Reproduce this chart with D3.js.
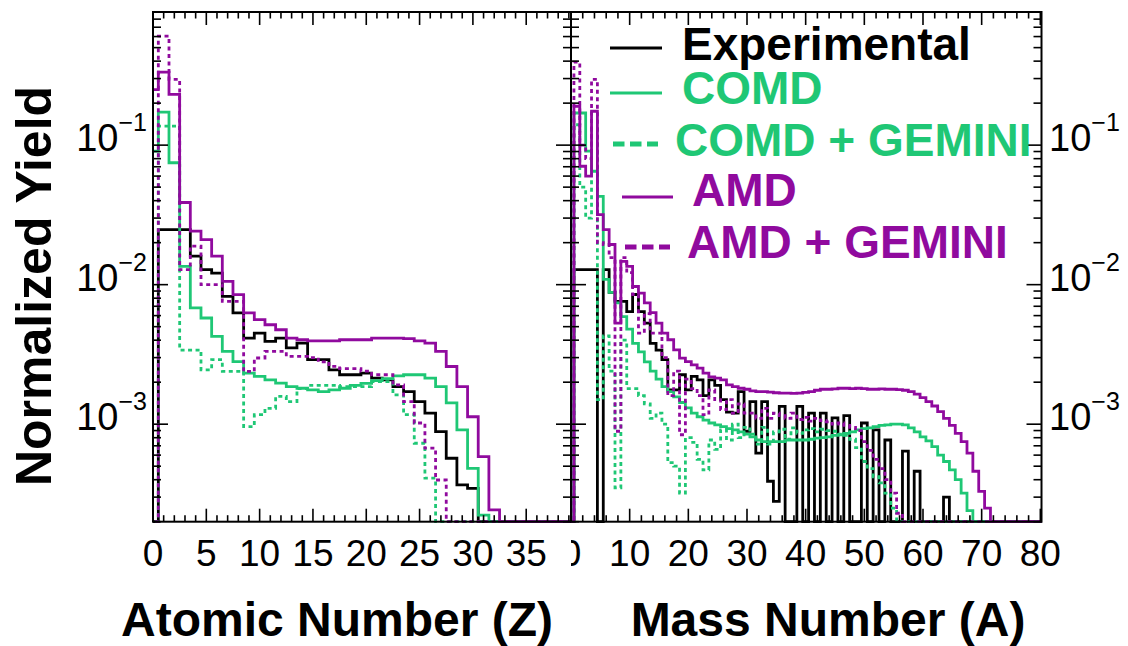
<!DOCTYPE html>
<html>
<head>
<meta charset="utf-8">
<script src="https://cdn.jsdelivr.net/npm/d3@7"></script>
<style>
  html, body { margin: 0; padding: 0; background: #fff; }
  text { font-family: "Liberation Sans", Arial, Helvetica, sans-serif; }
</style>
</head>
<body>
<svg id="chart" width="1128" height="646"></svg>
<script>
// ---- Fragment yields per atomic number Z (bins centred on Z = 0, 1, 2, ...) ----
const expZ     = [0, 0.0248, 0.0248, 0.0248, 0.016, 0.0128, 0.0121, 0.00824, 0.00627, 0.00414, 0.0045, 0.00392, 0.00414, 0.00352, 0.00381, 0.0029, 0.0029, 0.00245, 0.00226, 0.00226, 0.00232, 0.00214, 0.00208, 0.00186, 0.00171, 0.00145, 0.0012, 0.000885, 0.00057, 0.000367, 0.000347];
const comdZ    = [0.0906, 0.1726, 0.0748, 0.0135, 0.00681, 0.00577, 0.00426, 0.00332, 0.00281, 0.00232, 0.0022, 0.00208, 0.00197, 0.00186, 0.00181, 0.00176, 0.00171, 0.00176, 0.00181, 0.0019, 0.00196, 0.00205, 0.00212, 0.00222, 0.00226, 0.00226, 0.00214, 0.00186, 0.00142, 0.00091, 0.000483, 0.000223];
const comdGemZ = [0, 0.137, 0.137, 0.0034, 0.0034, 0.00245, 0.0029, 0.00239, 0.00239, 0.00096, 0.00117, 0.0013, 0.00158, 0.00145, 0.0018, 0.0019, 0.0019, 0.0019, 0.00186, 0.00186, 0.00186, 0.00202, 0.00202, 0.00162, 0.00117, 0.00073, 0.00041];
const amdZ     = [0.25, 0.334, 0.231, 0.0388, 0.0242, 0.021, 0.016, 0.01057, 0.00848, 0.00627, 0.00561, 0.00516, 0.00475, 0.00414, 0.00403, 0.00396, 0.00396, 0.00396, 0.00403, 0.00403, 0.00403, 0.00414, 0.00414, 0.00414, 0.0041, 0.00396, 0.00381, 0.00332, 0.00259, 0.00186, 0.00113, 0.000585, 0.000243];
const amdGemZ  = [0, 0.605, 0.296, 0.0128, 0.0189, 0.01, 0.01, 0.0076, 0.0076, 0.00239, 0.00298, 0.00332, 0.00332, 0.00306, 0.00306, 0.003, 0.0028, 0.0026, 0.0025, 0.0025, 0.0024, 0.00226, 0.00226, 0.00191, 0.00145, 0.00102, 0.000673, 0.000398];

// ---- Fragment yields per mass number A (bins centred on A = 0, 1, 2, ...) ----
const expA     = [0, 0.0128, 0.0128, 0.0128, 0.0128, 0, 0.0128, 0.0088, 0.0076, 0.0076, 0.0064, 0.0085, 0.0064, 0.0053, 0.0038, 0.0034, 0.0029, 0.00176, 0.00176, 0.00226, 0.00176, 0.0022, 0.00208, 0.0016, 0.00208, 0.0019, 0.0015, 0.00122, 0.0012, 0.00171, 0.00089, 0.00145, 0.00062, 0.00145, 0.00039, 0.00028, 0.00134, 0, 0, 0.00134, 0, 0.0012, 0, 0.0012, 0, 0.00111, 0, 0.00115, 0, 0, 0.00102, 0, 0.00091, 0, 0.00077, 0, 0, 0.00064, 0, 0.00046, 0, 0, 0, 0, 0.0003];
const comdA    = [0, 0.17, 0.17, 0.0906, 0.065, 0.043, 0.0109, 0.0088, 0.0074, 0.0059, 0.0048, 0.0038, 0.0033, 0.0028, 0.0024, 0.0021, 0.00186, 0.00171, 0.00157, 0.00143, 0.00131, 0.0012, 0.00113, 0.00107, 0.00102, 0.00099, 0.00096, 0.00093, 0.00091, 0.00088, 0.00085, 0.00081, 0.00077, 0.00075, 0.00075, 0.00075, 0.00075, 0.00077, 0.00077, 0.00077, 0.00077, 0.00078, 0.000795, 0.0008, 0.00081, 0.00083, 0.00084, 0.00086, 0.00088, 0.00091, 0.00093, 0.00094, 0.00096, 0.00098, 0.00099, 0.001, 0.001, 0.00099, 0.00094, 0.00088, 0.00081, 0.00076, 0.00069, 0.0006, 0.00054, 0.00047, 0.0004, 0.00032, 0.00024];
const comdGemA = [0, 0.14, 0.05, 0.03, 0.13, 0.0015, 0.0043, 0.0024, 0.00035, 0.004, 0.0018, 0.0018, 0.0016, 0.0014, 0.0011, 0.0012, 0.001, 0.00053, 0.0005, 0.00032, 0.0008, 0.00074, 0.00056, 0.00047, 0.00077, 0.00066, 0.00091, 0.00077, 0.001, 0.0008, 0.00095, 0.00085, 0.00072, 0.00095, 0.00072, 0.00088, 0.00092, 0.00078, 0.00094, 0.00086, 0.00091, 0.00093, 0.00088, 0.00092, 0.0009, 0.00089, 0.00085, 0.00083, 0.00078, 0.00068, 0.00054, 0.00048, 0.00042, 0.00038, 0.00032, 0.00025];
const amdA     = [0, 0.19, 0.0706, 0.06, 0.175, 0.0318, 0.0248, 0.0194, 0.0053, 0.0147, 0.0135, 0.0097, 0.0087, 0.0074, 0.0063, 0.0053, 0.0045, 0.00403, 0.00341, 0.00297, 0.00281, 0.00266, 0.00252, 0.00232, 0.00218, 0.00214, 0.00208, 0.00191, 0.00186, 0.00181, 0.00178, 0.00173, 0.00171, 0.00171, 0.0017, 0.00168, 0.00167, 0.00167, 0.00166, 0.00167, 0.00169, 0.00171, 0.00175, 0.00178, 0.00178, 0.00179, 0.00181, 0.00181, 0.0018, 0.00181, 0.0018, 0.00178, 0.00178, 0.00179, 0.00178, 0.00178, 0.00177, 0.00175, 0.00171, 0.00164, 0.00155, 0.00145, 0.00135, 0.00123, 0.0011, 0.00098, 0.00086, 0.00075, 0.00062, 0.00046, 0.00033, 0.00025];
const amdGemA  = [0, 0.393, 0.1, 0.08, 0.296, 0.02, 0.0194, 0.0156, 0.00089, 0.0156, 0.0122, 0.0085, 0.0045, 0.0062, 0.0045, 0.0045, 0.003, 0.0016, 0.0024, 0.00084, 0.0021, 0.0018, 0.0016, 0.00117, 0.00176, 0.0015, 0.00127, 0.0015, 0.0012, 0.0014, 0.0012, 0.0012, 0.0011, 0.0013, 0.0011, 0.0012, 0.00115, 0.0011, 0.0012, 0.00108, 0.00112, 0.00105, 0.0011, 0.00106, 0.00104, 0.001, 0.00102, 0.00098, 0.00095, 0.0009, 0.00075, 0.00065, 0.00056, 0.00048, 0.0004, 0.00032, 0.00023];

// ---- Axis labels ----
const zTickLabels = [0, 5, 10, 15, 20, 25, 30, 35];
const aTickLabels = [0, 10, 20, 30, 40, 50, 60, 70, 80];
const yDecades    = [-3, -2, -1];
const legendLabels = ["Experimental", "COMD", "COMD + GEMINI", "AMD", "AMD + GEMINI"];

// ---- Styling ----
const BLACK = "#000000", GREEN = "#1fc775", PURPLE = "#900a9e";
const series = [
  { key: "exp",     color: BLACK,  dotted: false },
  { key: "comd",    color: GREEN,  dotted: false },
  { key: "comdGem", color: GREEN,  dotted: true  },
  { key: "amd",     color: PURPLE, dotted: false },
  { key: "amdGem",  color: PURPLE, dotted: true  }
];
const panelData = {
  Z: { exp: expZ, comd: comdZ, comdGem: comdGemZ, amd: amdZ, amdGem: amdGemZ },
  A: { exp: expA, comd: comdA, comdGem: comdGemA, amd: amdA, amdGem: amdGemA }
};

const svg = d3.select("#chart");
const frameTop = 12, frameBottom = 521.7;
const yMin = 2e-4, yMax = 0.9;
const y = d3.scaleLog().domain([yMin, yMax]).range([frameBottom, frameTop]);

const panels = [
  { id: "Z", left: 153, right: 571, xMax: 39.2, nBins: 40, major: 5, minor: 1,
    labels: zTickLabels, title: "Atomic Number (Z)", titleX: 337 },
  { id: "A", left: 571, right: 1041.5, xMax: 80.2, nBins: 81, major: 10, minor: 2,
    labels: aTickLabels, title: "Mass Number (A)", titleX: 828 }
];

const defs = svg.append("defs");

// major (decade) and minor positions of the log axis
const logTicks = [];
for (let e = -4; e <= 0; e++) {
  for (let m = 1; m <= 9; m++) {
    const v = m * Math.pow(10, e);
    if (v >= yMin && v <= yMax) logTicks.push({ v, major: m === 1 });
  }
}

panels.forEach((p, pi) => {
  const x = d3.scaleLinear().domain([0, p.xMax]).range([p.left, p.right]);
  const g = svg.append("g");

  defs.append("clipPath").attr("id", "clip" + p.id)
    .append("rect").attr("x", p.left).attr("y", frameTop - 2)
    .attr("width", p.right - p.left).attr("height", frameBottom - frameTop + 4);

  // histograms drawn as step outlines, empty bins resting on the lower edge
  const stepLine = d3.line();
  series.forEach(s => {
    const vals = panelData[p.id][s.key];
    const v = i => Math.max(vals[i] || 0, yMin);
    const pts = [[x(-0.5), y(yMin)]];
    for (let i = 0; i < p.nBins; i++) {
      pts.push([x(i - 0.5), y(v(i))]);
      pts.push([x(i + 0.5), y(v(i))]);
    }
    pts.push([x(p.nBins - 0.5), y(yMin)]);
    g.append("path")
      .attr("clip-path", `url(#clip${p.id})`)
      .attr("d", stepLine(pts))
      .attr("fill", "none")
      .attr("stroke", s.color)
      .attr("stroke-width", 2.8)
      .attr("stroke-dasharray", s.dotted ? "4,3.5" : null);
  });

  // frame
  g.append("rect")
    .attr("x", p.left).attr("y", frameTop)
    .attr("width", p.right - p.left).attr("height", frameBottom - frameTop)
    .attr("fill", "none").attr("stroke", "#000").attr("stroke-width", 2);

  // x ticks on bottom and top
  const xt = g.append("g").attr("stroke", "#000").attr("stroke-width", 1.6);
  d3.range(0, Math.floor(p.xMax) + 1e-9, p.minor).forEach(t => {
    const isMajor = Math.abs(t / p.major - Math.round(t / p.major)) < 1e-6;
    const len = isMajor ? 13 : 6.5;
    xt.append("line").attr("x1", x(t)).attr("x2", x(t)).attr("y1", frameBottom).attr("y2", frameBottom - len);
    xt.append("line").attr("x1", x(t)).attr("x2", x(t)).attr("y1", frameTop).attr("y2", frameTop + len);
  });

  // y ticks on both vertical sides of the frame
  const yt = g.append("g").attr("stroke", "#000").attr("stroke-width", 1.6);
  logTicks.forEach(t => {
    const len = t.major ? 15 : 8;
    yt.append("line").attr("x1", p.left).attr("x2", p.left + len).attr("y1", y(t.v)).attr("y2", y(t.v));
    yt.append("line").attr("x1", p.right).attr("x2", p.right - len).attr("y1", y(t.v)).attr("y2", y(t.v));
  });

  // x tick labels (clipped to the pad, which trims the right pad's leading zero)
  defs.append("clipPath").attr("id", "lab" + p.id)
    .append("rect").attr("x", pi === 0 ? 0 : p.left).attr("y", 520)
    .attr("width", pi === 0 ? p.right : 1128 - p.left).attr("height", 60);
  const lab = g.append("g").attr("clip-path", `url(#lab${p.id})`);
  p.labels.forEach(t => {
    lab.append("text")
      .attr("x", x(t)).attr("y", 566)
      .attr("text-anchor", "middle")
      .attr("font-size", 37)
      .text(t);
  });

  // axis title
  g.append("text")
    .attr("x", p.titleX).attr("y", 636)
    .attr("text-anchor", "middle")
    .attr("font-size", 48).attr("font-weight", "bold")
    .text(p.title);
});

// decade labels 10^n on the outer left and outer right
function decadeLabel(xPos, anchor, e) {
  const t = svg.append("text")
    .attr("x", xPos).attr("y", y(Math.pow(10, e)) + 6)
    .attr("text-anchor", anchor)
    .attr("font-size", 38);
  t.append("tspan").text("10");
  t.append("tspan").attr("dy", -20).attr("font-size", 25).text("\u2212" + Math.abs(e));
}
yDecades.forEach(e => {
  decadeLabel(147, "end", e);
  decadeLabel(1049, "start", e);
});

// y axis title
svg.append("text")
  .attr("transform", "translate(51,286) rotate(-90)")
  .attr("text-anchor", "middle")
  .attr("font-size", 50).attr("font-weight", "bold")
  .text("Normalized Yield");

// legend
const legendLayout = [
  { x1: 610, x2: 662, ly: 48,  tx: 682, ty: 60 },
  { x1: 610, x2: 662, ly: 93,  tx: 682, ty: 104 },
  { x1: 613, x2: 658, ly: 144, tx: 675, ty: 156 },
  { x1: 622, x2: 673, ly: 197, tx: 692, ty: 206 },
  { x1: 625, x2: 670, ly: 247, tx: 687, ty: 258 }
];
const leg = svg.append("g");
series.forEach((s, i) => {
  const L = legendLayout[i];
  leg.append("line")
    .attr("x1", L.x1).attr("x2", L.x2).attr("y1", L.ly).attr("y2", L.ly)
    .attr("stroke", s.color)
    .attr("stroke-width", s.dotted ? 5 : 2.8)
    .attr("stroke-dasharray", s.dotted ? "11.5,5.5" : null);
  leg.append("text")
    .attr("x", L.tx).attr("y", L.ty)
    .attr("font-size", 46).attr("font-weight", "bold")
    .attr("fill", s.color)
    .text(legendLabels[i]);
});
</script>
</body>
</html>
